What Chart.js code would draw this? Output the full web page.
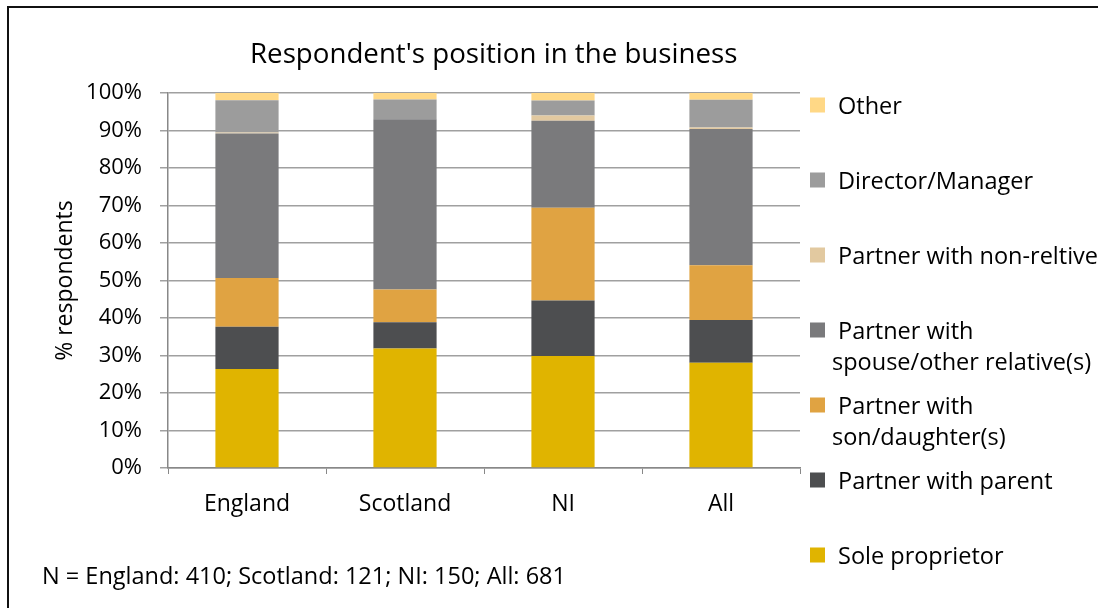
<!DOCTYPE html>
<html>
<head>
<meta charset="utf-8">
<title>Respondent's position in the business</title>
<script src="https://cdn.jsdelivr.net/npm/chart.js@4.4.0/dist/chart.umd.min.js"></script>
<style>
  html, body { margin: 0; padding: 0; background: #fff; }
  #wrap { width: 1098px; height: 608px; position: relative; }
</style>
</head>
<body>
<div id="wrap"><canvas id="positionChart" width="1098" height="608"></canvas></div>
<script>
var FONT = '"Open Sans", "DejaVu Sans", sans-serif';

var countries = ['England', 'Scotland', 'NI', 'All'];
var sampleSizes = [410, 121, 150, 681];

// % of respondents in each position, one value per country
var soleProprietor   = [26.4, 31.9, 29.9, 28.1];
var partnerParent    = [11.3,  7.0, 14.8, 11.4];
var partnerSon       = [13.0,  8.7, 24.7, 14.6];
var partnerSpouse    = [38.5, 45.4, 23.2, 36.3];
var partnerNonRel    = [ 0.3,  0.0,  1.4,  0.4];
var directorManager  = [ 8.6,  5.3,  4.0,  7.4];
var otherPosition    = [ 1.9,  1.7,  2.0,  1.8];

var yTicks = [0, 10, 20, 30, 40, 50, 60, 70, 80, 90, 100];

// legend text, split where the label wraps
var seriesLabels = [
  ['Sole proprietor'],
  ['Partner with parent'],
  ['Partner with', 'son/daughter(s)'],
  ['Partner with', 'spouse/other relative(s)'],
  ['Partner with non-reltive'],
  ['Director/Manager'],
  ['Other']
];
var seriesColors = ['#E0B400', '#4D4E50', '#E0A342', '#7A7A7C', '#E2C9A0', '#9C9C9C', '#FFD886'];
var seriesValues = [soleProprietor, partnerParent, partnerSon, partnerSpouse, partnerNonRel, directorManager, otherPosition];

var data = {
  labels: countries,
  datasets: seriesValues.map(function(vals, i) {
    return {
      label: seriesLabels[i].join(' '),
      data: vals,
      backgroundColor: seriesColors[i],
      borderWidth: 0,
      barPercentage: 0.4,
      categoryPercentage: 1.0
    };
  })
};

// title, frame, footnote and the right-hand legend
var extras = {
  id: 'extras',
  afterDraw: function(chart) {
    var c = chart.ctx;
    c.save();

    c.strokeStyle = '#111';
    c.lineWidth = 2;
    c.beginPath();
    c.moveTo(8, 620);
    c.lineTo(8, 7);
    c.lineTo(1110, 7);
    c.stroke();

    c.fillStyle = '#000';
    c.textAlign = 'left';
    c.textBaseline = 'alphabetic';
    c.font = '27.7px ' + FONT;
    c.fillText("Respondent's position in the business", 250, 63);

    c.font = '23.5px ' + FONT;
    c.fillText('N = England: ' + sampleSizes[0] + '; Scotland: ' + sampleSizes[1] +
               '; NI: ' + sampleSizes[2] + '; All: ' + sampleSizes[3], 42, 584);

    // legend: reversed so it reads top-down like the stack
    var n = chart.data.datasets.length;
    for (var k = 0; k < n; k++) {
      var i = n - 1 - k;
      var y = 105 + k * 75;
      c.fillStyle = chart.data.datasets[i].backgroundColor;
      c.fillRect(810, y - 7.5, 15, 15);
      c.fillStyle = '#000';
      var lines = seriesLabels[i];
      c.fillText(lines[0], 838, y + 8.5);
      for (var j = 1; j < lines.length; j++) {
        c.fillText(lines[j], 832, y + 8.5 + j * 31.5);
      }
    }
    c.restore();
  }
};

var ctx = document.getElementById('positionChart').getContext('2d');
var myChart = new Chart(ctx, {
  type: 'bar',
  data: data,
  plugins: [extras],
  options: {
    responsive: false,
    animation: false,
    layout: { padding: { left: 40, right: 298, top: 93, bottom: 80 } },
    plugins: {
      legend: { display: false },
      title: { display: false },
      tooltip: { enabled: false }
    },
    scales: {
      x: {
        stacked: true,
        afterFit: function(scale) { scale.height = 60; },
        grid: { drawOnChartArea: false, drawTicks: true, tickLength: 6, color: '#888', offset: true },
        border: { color: '#888', width: 1.5 },
        ticks: { color: '#000', font: { family: FONT, size: 23 }, padding: 17, maxRotation: 0 }
      },
      y: {
        stacked: true,
        min: 0,
        max: 100,
        afterFit: function(scale) { scale.width = 128; },
        afterBuildTicks: function(scale) {
          scale.ticks = yTicks.map(function(v) { return { value: v }; });
        },
        grid: { color: '#A0A0A0', lineWidth: 1.5, tickLength: 8 },
        border: { color: '#888', width: 1.5 },
        ticks: {
          color: '#000',
          font: { family: FONT, size: 22 },
          padding: 18,
          callback: function(v) { return v + '%'; }
        },
        title: {
          display: true,
          text: '% respondents',
          color: '#000',
          font: { family: FONT, size: 23 },
          padding: { top: 12, bottom: 0 }
        }
      }
    }
  }
});
</script>
</body>
</html>
